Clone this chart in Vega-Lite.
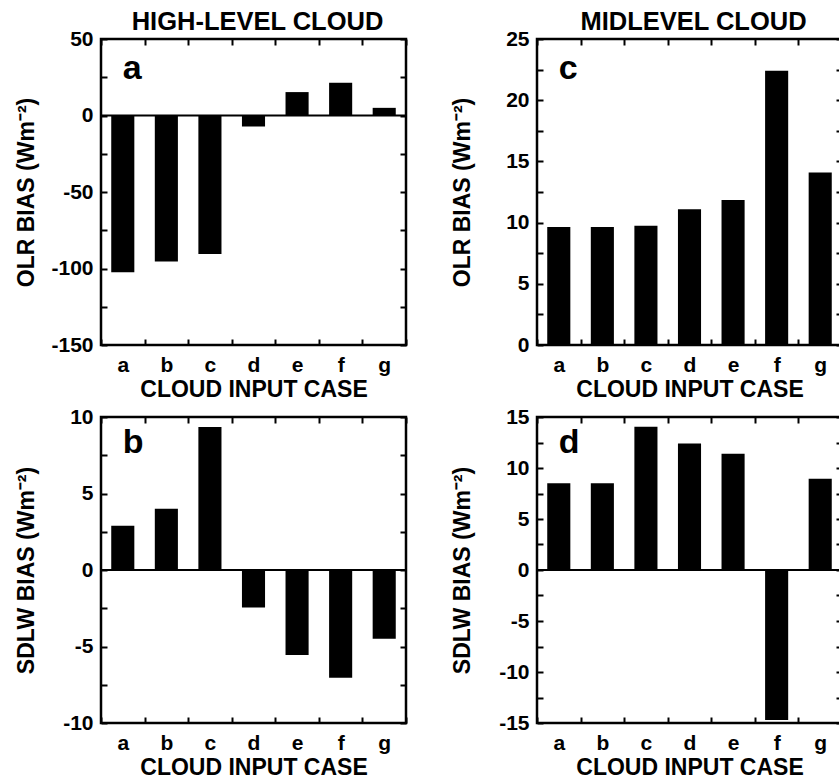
{
  "$schema": "https://vega.github.io/schema/vega-lite/v6.json",
  "padding": {"left": 13, "top": 8, "right": 0, "bottom": 0},
  "background": "white",
  "config": {
    "font": "Liberation Sans",
    "view": {"stroke": "black", "strokeWidth": 2.5},
    "axis": {
      "labelFont": "Liberation Sans", "labelFontWeight": "bold", "labelFontSize": 21, "labelColor": "black",
      "titleFont": "Liberation Sans", "titleFontWeight": "bold", "titleFontSize": 23, "titleColor": "black",
      "domain": false, "grid": false, "tickColor": "black", "tickWidth": 2, "tickSize": -6, "labelOverlap": false
    },
    "title": {"font": "Liberation Sans", "fontWeight": "bold", "fontSize": 25.5, "color": "black", "offset": -7, "dx": 4},
    "bar": {"color": "black"}
  },
  "datasets": {
    "high": [
      {"case": "a", "olr": -102.5, "sdlw": 2.9},
      {"case": "b", "olr": -95.5, "sdlw": 4.0},
      {"case": "c", "olr": -90.5, "sdlw": 9.35},
      {"case": "d", "olr": -7.2, "sdlw": -2.45},
      {"case": "e", "olr": 15.3, "sdlw": -5.55},
      {"case": "f", "olr": 21.4, "sdlw": -7.05},
      {"case": "g", "olr": 5.0, "sdlw": -4.5}
    ],
    "mid": [
      {"case": "a", "olr": 9.65, "sdlw": 8.5},
      {"case": "b", "olr": 9.65, "sdlw": 8.5},
      {"case": "c", "olr": 9.75, "sdlw": 14.05},
      {"case": "d", "olr": 11.1, "sdlw": 12.4},
      {"case": "e", "olr": 11.85, "sdlw": 11.4},
      {"case": "f", "olr": 22.4, "sdlw": -14.7},
      {"case": "g", "olr": 14.1, "sdlw": 8.95}
    ]
  },
  "columns": 2,
  "spacing": {"row": 1, "column": 40},
  "align": "each",
  "concat": [
    {
      "width": 305, "height": 306,
      "title": "HIGH-LEVEL CLOUD",
      "data": {"name": "high"},
      "layer": [
        {
          "mark": {"type": "bar", "width": {"band": 0.53}},
          "encoding": {
            "x": {"field": "case", "type": "nominal", "scale": {"type": "band", "paddingInner": 0, "paddingOuter": 0},
                  "axis": {"orient": "bottom", "title": "CLOUD INPUT CASE", "labelAngle": 0, "tickBand": "extent", "labelPadding": 15, "titlePadding": 3}},
            "y": {"field": "olr", "type": "quantitative", "scale": {"domain": [-150, 50], "nice": false, "zero": false},
                  "axis": {"orient": "left", "title": "OLR BIAS (Wm⁻²)", "values": [-150, -125, -100, -75, -50, -25, 0, 25, 50],
                           "labelExpr": "datum.value % 50 === 0 ? replace(datum.label, '−', '-') : ''", "labelPadding": 14, "minExtent": 53, "titlePadding": 10}}
          }
        },
        {
          "data": {"values": [{"zero": 0}]},
          "mark": {"type": "rule", "strokeWidth": 2, "color": "black"},
          "encoding": {"y": {"field": "zero", "type": "quantitative", "axis": null}}
        },
        {
          "data": {"values": [{"panel": "a"}]},
          "mark": {"type": "text", "align": "left", "baseline": "alphabetic", "fontSize": 34, "fontWeight": "bold", "font": "Liberation Sans", "color": "black"},
          "encoding": {
            "x": {"datum": "a", "type": "nominal", "axis": {"orient": "top", "labels": false, "title": null, "tickBand": "extent"}},
            "y": {"datum": 24, "type": "quantitative", "axis": {"orient": "right", "labels": false, "title": null, "values": [-150, -125, -100, -75, -50, -25, 0, 25, 50]}},
            "text": {"field": "panel"}
          }
        }
      ],
      "resolve": {"axis": {"x": "independent", "y": "independent"}}
    },
    {
      "width": 305, "height": 306,
      "title": "MIDLEVEL CLOUD",
      "data": {"name": "mid"},
      "layer": [
        {
          "mark": {"type": "bar", "width": {"band": 0.53}},
          "encoding": {
            "x": {"field": "case", "type": "nominal", "scale": {"type": "band", "paddingInner": 0, "paddingOuter": 0},
                  "axis": {"orient": "bottom", "title": "CLOUD INPUT CASE", "labelAngle": 0, "tickBand": "extent", "labelPadding": 15, "titlePadding": 3}},
            "y": {"field": "olr", "type": "quantitative", "scale": {"domain": [0, 25], "nice": false},
                  "axis": {"orient": "left", "title": "OLR BIAS (Wm⁻²)", "values": [0, 2.5, 5, 7.5, 10, 12.5, 15, 17.5, 20, 22.5, 25],
                           "labelExpr": "datum.value % 5 === 0 ? replace(datum.label, '−', '-') : ''", "labelPadding": 14, "minExtent": 53, "titlePadding": 10}}
          }
        },
        {
          "data": {"values": [{"panel": "c"}]},
          "mark": {"type": "text", "align": "left", "baseline": "alphabetic", "fontSize": 34, "fontWeight": "bold", "font": "Liberation Sans", "color": "black"},
          "encoding": {
            "x": {"datum": "a", "type": "nominal", "axis": {"orient": "top", "labels": false, "title": null, "tickBand": "extent"}},
            "y": {"datum": 21.7, "type": "quantitative", "axis": {"orient": "right", "labels": false, "title": null, "values": [0, 2.5, 5, 7.5, 10, 12.5, 15, 17.5, 20, 22.5, 25]}},
            "text": {"field": "panel"}
          }
        }
      ],
      "resolve": {"axis": {"x": "independent", "y": "independent"}}
    },
    {
      "width": 305, "height": 306,
      "data": {"name": "high"},
      "layer": [
        {
          "mark": {"type": "bar", "width": {"band": 0.53}},
          "encoding": {
            "x": {"field": "case", "type": "nominal", "scale": {"type": "band", "paddingInner": 0, "paddingOuter": 0},
                  "axis": {"orient": "bottom", "title": "CLOUD INPUT CASE", "labelAngle": 0, "tickBand": "extent", "labelPadding": 15, "titlePadding": 3}},
            "y": {"field": "sdlw", "type": "quantitative", "scale": {"domain": [-10, 10], "nice": false, "zero": false},
                  "axis": {"orient": "left", "title": "SDLW BIAS (Wm⁻²)", "values": [-10, -7.5, -5, -2.5, 0, 2.5, 5, 7.5, 10],
                           "labelExpr": "datum.value % 5 === 0 ? replace(datum.label, '−', '-') : ''", "labelPadding": 14, "minExtent": 53, "titlePadding": 10}}
          }
        },
        {
          "data": {"values": [{"zero": 0}]},
          "mark": {"type": "rule", "strokeWidth": 2, "color": "black"},
          "encoding": {"y": {"field": "zero", "type": "quantitative", "axis": null}}
        },
        {
          "data": {"values": [{"panel": "b"}]},
          "mark": {"type": "text", "align": "left", "baseline": "alphabetic", "fontSize": 34, "fontWeight": "bold", "font": "Liberation Sans", "color": "black"},
          "encoding": {
            "x": {"datum": "a", "type": "nominal", "axis": {"orient": "top", "labels": false, "title": null, "tickBand": "extent"}},
            "y": {"datum": 7.65, "type": "quantitative", "axis": {"orient": "right", "labels": false, "title": null, "values": [-10, -7.5, -5, -2.5, 0, 2.5, 5, 7.5, 10]}},
            "text": {"field": "panel"}
          }
        }
      ],
      "resolve": {"axis": {"x": "independent", "y": "independent"}}
    },
    {
      "width": 305, "height": 306,
      "data": {"name": "mid"},
      "layer": [
        {
          "mark": {"type": "bar", "width": {"band": 0.53}},
          "encoding": {
            "x": {"field": "case", "type": "nominal", "scale": {"type": "band", "paddingInner": 0, "paddingOuter": 0},
                  "axis": {"orient": "bottom", "title": "CLOUD INPUT CASE", "labelAngle": 0, "tickBand": "extent", "labelPadding": 15, "titlePadding": 3}},
            "y": {"field": "sdlw", "type": "quantitative", "scale": {"domain": [-15, 15], "nice": false, "zero": false},
                  "axis": {"orient": "left", "title": "SDLW BIAS (Wm⁻²)", "values": [-15, -12.5, -10, -7.5, -5, -2.5, 0, 2.5, 5, 7.5, 10, 12.5, 15],
                           "labelExpr": "datum.value % 5 === 0 ? replace(datum.label, '−', '-') : ''", "labelPadding": 14, "minExtent": 53, "titlePadding": 10}}
          }
        },
        {
          "data": {"values": [{"zero": 0}]},
          "mark": {"type": "rule", "strokeWidth": 2, "color": "black"},
          "encoding": {"y": {"field": "zero", "type": "quantitative", "axis": null}}
        },
        {
          "data": {"values": [{"panel": "d"}]},
          "mark": {"type": "text", "align": "left", "baseline": "alphabetic", "fontSize": 34, "fontWeight": "bold", "font": "Liberation Sans", "color": "black"},
          "encoding": {
            "x": {"datum": "a", "type": "nominal", "axis": {"orient": "top", "labels": false, "title": null, "tickBand": "extent"}},
            "y": {"datum": 11.45, "type": "quantitative", "axis": {"orient": "right", "labels": false, "title": null, "values": [-15, -12.5, -10, -7.5, -5, -2.5, 0, 2.5, 5, 7.5, 10, 12.5, 15]}},
            "text": {"field": "panel"}
          }
        }
      ],
      "resolve": {"axis": {"x": "independent", "y": "independent"}}
    }
  ]
}
